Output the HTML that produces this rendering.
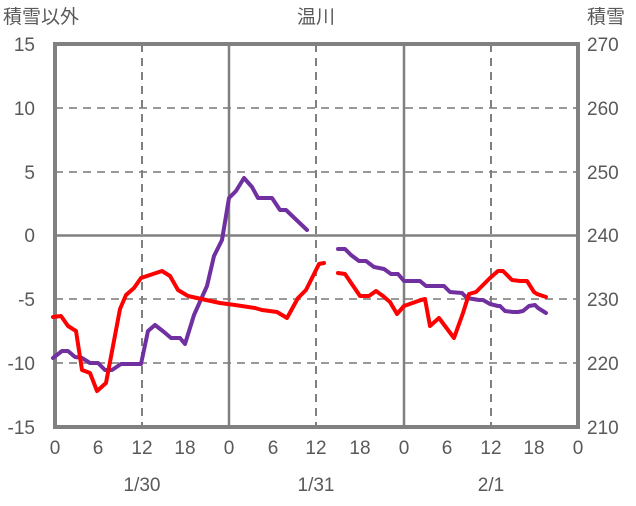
<!DOCTYPE html>
<html><head><meta charset="utf-8"><style>
body{margin:0;background:#fff}
svg text{font-family:"Liberation Sans","Noto Sans CJK JP",sans-serif;fill:#595959;font-size:19px}
</style></head><body>
<svg width="636" height="501" xmlns="http://www.w3.org/2000/svg">
<g stroke="#999" stroke-width="2" stroke-dasharray="8,6">
<line x1="55" y1="108" x2="578" y2="108"/><line x1="55" y1="172" x2="578" y2="172"/>
<line x1="55" y1="299" x2="578" y2="299"/><line x1="55" y1="363" x2="578" y2="363"/>
</g>
<g stroke="#808080" stroke-width="2" stroke-dasharray="8,6">
<line x1="142" y1="44" x2="142" y2="427"/><line x1="316" y1="44" x2="316" y2="427"/><line x1="491" y1="44" x2="491" y2="427"/>
</g>
<g stroke="#808080" stroke-width="2.5">
<line x1="229" y1="44" x2="229" y2="427"/><line x1="404" y1="44" x2="404" y2="427"/>
<line x1="55" y1="235.5" x2="578" y2="235.5"/>
</g>
<rect x="55" y="44" width="523" height="383" fill="none" stroke="#808080" stroke-width="4"/>
<g fill="none" stroke-width="4" stroke-linejoin="round" stroke-linecap="round">
<polyline stroke="#7030a0" points="53,358 62,351 68,351 75,357 82,358 90,363 98,363 105,370 112,370 121,364 141,364 148,331 155,325 164,332 171,338 180,338 185,344 194,315 207,286 214,256 222,240 229,198 236,191 244,178 252,187 258,198 272,198 280,210 286,210 307,230"/>
<polyline stroke="#ff0000" points="53,317 61,316 68,326 76,331 82,370 90,373 97,391 106,383 120,309 126,295 134,288 141,278 162,271 170,276 178,290 188,296 206,300 220,303 235,305 255,308 262,310 277,312 287,318 298,298 306,290 315,272 319,264 324,263"/>
<polyline stroke="#7030a0" points="338,249 345,249 351,255 359,261 366,261 374,267 384,269 391,274 398,274 404,281 420,281 426,286 444,286 450,292 462,293 467,298 479,300 483,300 490,304 498,306 500,306 505,311 513,312 518,312 523,311 529,306 535,305 538,308 546,313"/>
<polyline stroke="#ff0000" points="338,273 345,274 360,296 369,296 376,291 383,296 390,302 397,314 404,306 421,300 425,299 430,326 439,318 454,338 463,313 469,294 476,292 490,278 498,271 503,271 512,280 520,281 527,281 534,292 537,294 546,297"/>
</g>
<g text-anchor="end">
<text x="35" y="51">15</text><text x="35" y="115">10</text><text x="35" y="179">5</text><text x="35" y="242">0</text><text x="35" y="306">-5</text><text x="35" y="370">-10</text><text x="35" y="434">-15</text>
</g>
<g text-anchor="start">
<text x="587" y="51">270</text><text x="587" y="115">260</text><text x="587" y="179">250</text><text x="587" y="242">240</text><text x="587" y="306">230</text><text x="587" y="370">220</text><text x="587" y="434">210</text>
</g>
<g text-anchor="middle">
<text x="55" y="454">0</text><text x="98" y="454">6</text><text x="142" y="454">12</text><text x="185" y="454">18</text><text x="229" y="454">0</text><text x="273" y="454">6</text><text x="316" y="454">12</text><text x="360" y="454">18</text><text x="404" y="454">0</text><text x="447" y="454">6</text><text x="491" y="454">12</text><text x="534" y="454">18</text><text x="578" y="454">0</text>
<text x="142" y="491">1/30</text><text x="316" y="491">1/31</text><text x="491" y="491">2/1</text>
<text x="316" y="23">温川</text>
</g>
<text x="3" y="23">積雪以外</text>
<text x="587" y="23">積雪</text>
</svg>
</body></html>
